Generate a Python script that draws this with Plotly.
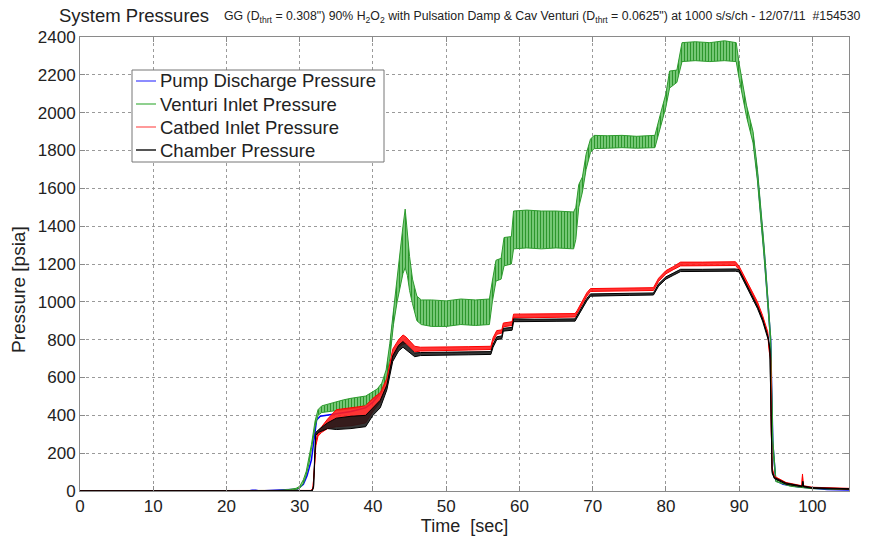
import plotly.graph_objects as go

# ---- Venturi inlet pressure: oscillation envelope (psia) ----
venturi_t = [0, 20, 27, 28.5, 29.5, 30.0, 30.5, 30.9, 31.3, 31.6, 32.1, 32.5, 33.0, 34.0, 35.0, 36.0,
             37.0, 38.0, 39.0, 40.0, 40.6, 41.2, 41.8, 42.3, 42.8, 43.3, 43.8, 44.1, 44.4, 44.7, 45.0,
             45.4, 46.0, 46.6, 48.0, 50.0, 52.0, 54.0, 55.9, 56.3, 56.8, 57.5, 57.9, 58.9, 59.2, 61.0,
             63.0, 65.0, 67.4, 67.7, 68.1, 68.6, 69.1, 69.7, 70.2, 72.0, 74.0, 76.0, 78.5, 79.3, 80.0,
             80.5, 81.5, 82.2, 84.0, 86.0, 88.0, 89.6, 90.0, 91.0, 91.9, 92.5, 93.4, 94.3, 94.45, 94.6,
             95.0, 97.0, 100.0, 105.0]
venturi_lo = [0, 0, 1, 4, 8, 15, 40, 85, 150, 220, 340, 400, 415, 420, 425, 430,
              435, 440, 455, 485, 500, 520, 580, 700, 880, 1000, 1100, 1150, 1180, 1140, 1060,
              990, 900, 880, 870, 870, 880, 875, 880, 1000, 1110, 1120, 1190, 1200, 1280, 1285,
              1280, 1285, 1280, 1330, 1500, 1580, 1700, 1790, 1810, 1812, 1815, 1812, 1815, 1930, 2030,
              2130, 2160, 2270, 2275, 2270, 2275, 2270, 2180, 1980, 1840, 1640, 1240, 780, 500, 230,
              50, 25, 12, 8]
venturi_hi = [1, 1, 3, 8, 14, 25, 60, 105, 175, 245, 370, 430, 450, 462, 472, 482,
              490, 495, 502, 525, 540, 570, 640, 780, 960, 1120, 1300, 1400, 1490, 1360, 1240,
              1120, 1030, 1010, 1010, 1005, 1015, 1010, 1015, 1110, 1220, 1230, 1340, 1345, 1480, 1485,
              1480, 1480, 1475, 1500, 1620, 1660, 1780, 1860, 1880, 1878, 1880, 1875, 1880, 2000, 2100,
              2220, 2225, 2370, 2375, 2370, 2380, 2370, 2260, 2040, 1900, 1700, 1300, 820, 540, 270,
              70, 32, 16, 10]

# ---- Pump discharge pressure (psia) ----
pump_t = [0, 23, 23.5, 24, 24.5, 27, 28, 29, 29.7, 30.5, 31.0, 31.6, 32.0, 32.3, 32.8, 33.7, 35, 37,
          39, 40, 41, 41.8, 42.3, 42.8, 43.3, 44.1, 44.6, 45.4, 46.6, 50, 55.9, 56.3, 56.8, 57.5, 57.9,
          58.9, 59.2, 63, 67.4, 68.1, 68.6, 69.1, 69.7, 70.2, 78.5, 79.3, 80.0, 80.5, 81.5, 82.2, 89.6,
          90, 91, 91.9, 92.5, 93.4, 94.3, 94.45, 94.6, 95.0, 96, 98, 100, 102, 105]
pump_p = [0, 0, 4, 4, 0, 2, 6, 8, 10, 35, 80, 165, 300, 375, 395, 400, 408, 420,
          440, 470, 515, 610, 740, 920, 1060, 1270, 1300, 1050, 945, 940, 945, 1055, 1165, 1175, 1265,
          1270, 1380, 1380, 1380, 1560, 1620, 1740, 1825, 1845, 1845, 1965, 2065, 2175, 2190, 2320, 2320,
          2220, 2010, 1870, 1670, 1270, 800, 520, 250, 55, 35, 22, 15, 8, 5]

# ---- Catbed inlet pressure envelope (psia) ----
catbed_t = [0, 31.5, 31.8, 32.0, 32.2, 32.5, 33.0, 33.8, 35.0, 37.0, 39.0, 40.0, 41.0, 41.9, 42.7,
            43.5, 44.1, 44.5, 45.0, 45.7, 46.5, 50.0, 53.0, 56.1, 56.4, 56.9, 57.6, 57.8, 59.0, 59.2,
            62.0, 65.0, 67.6, 67.9, 68.5, 69.2, 69.7, 72.0, 75.0, 78.3, 79.0, 80.0, 81.0, 82.0, 85.0,
            89.5, 90.0, 91.0, 91.8, 92.5, 93.2, 93.9, 94.1, 94.3, 94.4, 94.5, 94.8, 96.4, 98.55, 98.65,
            98.75, 100.0, 105.0]
catbed_lo = [0, 1, 8, 90, 240, 290, 310, 330, 340, 345, 360, 420, 470, 560, 705,
             760, 775, 780, 760, 735, 740, 742, 745, 748, 790, 828, 835, 868, 875, 915,
             918, 918, 920, 940, 985, 1030, 1055, 1057, 1058, 1060, 1108, 1148, 1170, 1190, 1190,
             1192, 1170, 1100, 1040, 985, 912, 828, 740, 690, 300, 115, 70, 38, 24, 80,
             24, 16, 10]
catbed_hi = [2, 3, 14, 110, 260, 310, 340, 380, 430, 440, 450, 490, 520, 595, 750,
             800, 825, 815, 795, 765, 760, 760, 763, 765, 810, 848, 852, 888, 895, 935,
             935, 936, 938, 955, 1000, 1048, 1070, 1072, 1073, 1075, 1125, 1165, 1186, 1210, 1210,
             1212, 1188, 1115, 1055, 1000, 928, 842, 755, 705, 310, 125, 78, 45, 28, 90,
             28, 20, 14]

# ---- Chamber pressure envelope (psia) ----
chamber_t = [0, 31.7, 31.9, 32.05, 32.2, 32.6, 33.8, 35.0, 37.0, 39.0, 40.0, 41.0, 41.9, 42.7, 43.5,
             44.1, 44.5, 45.0, 45.7, 46.5, 50.0, 53.0, 56.1, 56.4, 56.9, 57.6, 57.8, 59.0, 59.2, 62.0,
             65.0, 67.6, 67.9, 68.5, 69.2, 69.7, 72.0, 75.0, 78.3, 79.0, 80.0, 81.0, 82.0, 85.0, 89.5,
             90.0, 91.0, 91.8, 92.5, 93.2, 94.0, 94.2, 94.35, 94.5, 94.8, 96.4, 98.6, 98.7, 98.8, 100.0,
             105.0]
chamber_lo = [0, 0, 20, 200, 295, 310, 330, 325, 330, 340, 400, 440, 535, 685, 740,
              760, 748, 730, 710, 716, 718, 720, 722, 760, 800, 805, 845, 850, 895, 896,
              897, 898, 918, 960, 1005, 1030, 1033, 1034, 1036, 1083, 1120, 1140, 1160, 1160, 1162,
              1158, 1080, 1020, 965, 898, 795, 740, 400, 95, 66, 36, 22, 45, 22, 14,
              9]
chamber_hi = [1, 2, 30, 220, 310, 325, 360, 385, 395, 400, 440, 480, 560, 715, 770,
              790, 775, 755, 730, 732, 733, 735, 737, 775, 815, 820, 860, 865, 910, 908,
              909, 910, 930, 972, 1018, 1042, 1044, 1045, 1047, 1095, 1132, 1152, 1172, 1172, 1174,
              1170, 1092, 1032, 977, 910, 808, 752, 410, 105, 72, 42, 26, 52, 26, 18,
              12]

series_names = ["Pump Discharge Pressure", "Venturi Inlet Pressure",
                "Catbed Inlet Pressure", "Chamber Pressure"]
legend_colors = ["#8c8cff", "#8fd08f", "#ff9a9a", "#555555"]

x_ticks = list(range(0, 101, 10))
y_ticks = list(range(0, 2401, 200))

FONT = "Liberation Sans, Arial, sans-serif"
TXT = "#222222"

# plot-area geometry in pixels (used to place the hand-built legend box)
PL, PR, PT, PB = 80, 849, 37, 491


def px_x(px):
    return (px - PL) / (PR - PL)


def px_y(py):
    return (PB - py) / (PB - PT)


def band(t, lo, hi, line_color, fill_color, pattern=None):
    """Closed polygon spanning the oscillation envelope of a channel."""
    xs = list(t) + list(t[::-1])
    ys = list(hi) + list(lo[::-1])
    kw = dict(x=xs, y=ys, mode="lines", fill="toself", fillcolor=fill_color,
              line=dict(color=line_color, width=1), hoverinfo="skip", showlegend=False)
    if pattern:
        kw["fillpattern"] = pattern
    return go.Scatter(**kw)


fig = go.Figure()

fig.add_trace(go.Scatter(x=pump_t, y=pump_p, mode="lines",
                         line=dict(color="#0000ff", width=1.5), showlegend=False))
fig.add_trace(band(venturi_t, venturi_lo, venturi_hi, "rgb(45,155,45)", "rgb(110,195,110)",
                   pattern=dict(shape="|", fgcolor="rgb(45,150,45)", bgcolor="rgb(125,205,125)",
                                size=3, solidity=0.4, fillmode="replace")))
fig.add_trace(band(catbed_t, catbed_lo, catbed_hi, "#ff0000", "rgba(255,30,30,0.9)"))
fig.add_trace(band(chamber_t, chamber_lo, chamber_hi, "#000000", "rgba(25,25,25,0.88)"))

axis_common = dict(
    showline=True, linecolor="#8a8a8a", linewidth=1, mirror="ticks",
    ticks="inside", ticklen=5, tickcolor="#8a8a8a",
    showgrid=True, gridcolor="#9a9a9a", griddash="dot", gridwidth=1,
    zeroline=False, tickfont=dict(family=FONT, size=17, color=TXT),
)

fig.update_xaxes(range=[0, 105], tickvals=x_ticks,
                 title=dict(text="Time&nbsp;&nbsp;[sec]", font=dict(family=FONT, size=18, color=TXT),
                            standoff=3),
                 **axis_common)
fig.update_yaxes(range=[0, 2400], tickvals=y_ticks, **axis_common)

# legend box, drawn above the traces
legend_top, legend_bottom, legend_left, legend_right = 70, 162, 132, 384
entry_y = [81, 104, 127, 150]
shapes = [dict(type="rect", xref="paper", yref="paper", layer="above",
               x0=px_x(legend_left), x1=px_x(legend_right),
               y0=px_y(legend_bottom), y1=px_y(legend_top),
               fillcolor="white", line=dict(color="#777777", width=1))]
annotations = []
for name, col, ey in zip(series_names, legend_colors, entry_y):
    shapes.append(dict(type="line", xref="paper", yref="paper", layer="above",
                       x0=px_x(136), x1=px_x(156), y0=px_y(ey), y1=px_y(ey),
                       line=dict(color=col, width=2)))
    annotations.append(dict(text=name, xref="paper", yref="paper", x=px_x(158), y=px_y(ey),
                            xanchor="left", yanchor="middle", showarrow=False,
                            font=dict(family=FONT, size=18.5, color=TXT)))

annotations += [
    dict(text="Pressure [psia]", xref="paper", yref="paper", x=px_x(18), y=px_y(290),
         xanchor="center", yanchor="middle", textangle=-90, showarrow=False,
         font=dict(family=FONT, size=19, color=TXT)),
    dict(text="System Pressures", xref="paper", yref="paper",
         x=px_x(57), y=px_y(15), xanchor="left", yanchor="middle", showarrow=False,
         font=dict(family=FONT, size=18.5, color=TXT)),
    dict(text='GG (D<sub>thrt</sub> = 0.308") 90% H<sub>2</sub>O<sub>2</sub> with Pulsation Damp '
              '&amp; Cav Venturi (D<sub>thrt</sub> = 0.0625") at 1000 s/s/ch - 12/07/11&nbsp;&nbsp;#154530',
         xref="paper", yref="paper", x=px_x(222), y=px_y(17), xanchor="left", yanchor="middle",
         showarrow=False, font=dict(family=FONT, size=12.3, color=TXT)),
]

fig.update_layout(
    width=869, height=550,
    margin=dict(l=PL, r=869 - PR, t=PT, b=550 - PB),
    paper_bgcolor="white", plot_bgcolor="white",
    font=dict(family=FONT, color=TXT),
    showlegend=False,
    shapes=shapes,
    annotations=annotations,
)

fig.write_html("out.html", config={"displayModeBar": False})
